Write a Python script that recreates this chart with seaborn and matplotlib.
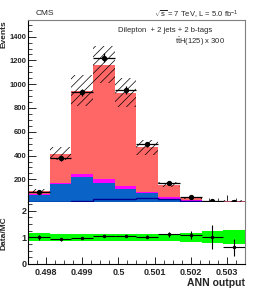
import numpy as np
import pandas as pd
import matplotlib
matplotlib.use("Agg")
import matplotlib.pyplot as plt
import seaborn as sns
from matplotlib.ticker import MultipleLocator

# binning of the ANN output
edges = [0.4975, 0.4981, 0.4987, 0.4993, 0.4999, 0.5005, 0.5011, 0.5017, 0.5023, 0.5029, 0.5035]

# stacked MC, bottom to top
mc_bb = [72, 158, 222, 172, 116, 82, 37, 20, 10, 7]
mc_cc = [8, 14, 23, 28, 24, 14, 12, 6, 2, 3]
mc_lf = [20, 243, 701, 965, 790, 374, 106, 20, 5, 8]
mc_unc = [15, 55, 130, 155, 120, 62, 22, 8, 3.8, 4.5]
signal = [10, 12, 20, 37, 38, 40, 32, 14, 10, 8]

data = [96, 377, 932, 1224, 952, 495, 170, 50, 18, 12]

ratio = [1.0, 0.92, 0.98, 1.04, 1.05, 1.02, 1.11, 1.09, 1.0, 0.62]
ratio_err = [0.10, 0.05, 0.035, 0.03, 0.035, 0.05, 0.08, 0.15, 0.45, 0.33]
band_err = [0.15, 0.13, 0.13, 0.13, 0.13, 0.13, 0.14, 0.17, 0.22, 0.27]

sns.set_style("ticks")
plt.rcParams["font.family"] = ["Liberation Sans", "DejaVu Sans"]
plt.rcParams["mathtext.fontset"] = "custom"
plt.rcParams["mathtext.rm"] = "Liberation Sans"
plt.rcParams["mathtext.it"] = "Liberation Sans:italic"
plt.rcParams["hatch.linewidth"] = 0.5

edges_a = np.array(edges)
centers = 0.5 * (edges_a[:-1] + edges_a[1:])
width = edges_a[1] - edges_a[0]
bb = np.array(mc_bb)
cc = bb + np.array(mc_cc)
tot = cc + np.array(mc_lf)
unc = np.array(mc_unc)

fig = plt.figure(figsize=(2.58, 2.90), dpi=100)
ax = fig.add_axes([0.1085, 0.3045, 0.841, 0.6265])
rx = fig.add_axes([0.1085, 0.09, 0.841, 0.2145])

# stack drawn back to front as cumulative layers
for vals, col in [(tot, "#ff6666"), (cc, "#ff00ff"), (bb, "#0a64c8")]:
    df = pd.DataFrame({"ann": centers, "w": vals})
    sns.histplot(data=df, x="ann", weights="w", bins=edges, element="bars", fill=True,
                 color=col, alpha=1, linewidth=0, ax=ax)
ax.stairs(signal, edges_a, color="#000090", linewidth=1.0)

ax.bar(centers, 2 * unc, bottom=tot - unc, width=width, fill=False,
       hatch="////", edgecolor="black", linewidth=0)

ax.errorbar(centers, data, yerr=np.sqrt(data), xerr=width / 2, fmt="o",
            color="black", markersize=2.8, elinewidth=0.9, capsize=0)

ax.set_xlim(0.4975, 0.5035)
ax.set_ylim(12, 1540)
ax.xaxis.set_major_locator(MultipleLocator(0.001))
ax.xaxis.set_minor_locator(MultipleLocator(0.00025))
ax.set_xticklabels([])
ax.yaxis.set_major_locator(MultipleLocator(200))
ax.yaxis.set_minor_locator(MultipleLocator(50))
ax.set_xlabel("")
ax.set_ylabel("Events", loc="top", fontsize=6, fontweight="bold", labelpad=1)
ax.tick_params(axis="both", which="both", direction="in")
ax.tick_params(axis="y", which="major", length=6, width=0.7, labelsize=5.5, pad=1)
ax.tick_params(axis="y", which="minor", length=3, width=0.6)
ax.tick_params(axis="x", which="major", length=5, width=0.7)
ax.tick_params(axis="x", which="minor", length=3, width=0.6)
for lab in ax.get_yticklabels():
    lab.set_fontweight("bold")

ax.text(0.037, 1.025, "CMS", transform=ax.transAxes, fontsize=6, va="baseline")
ax.text(0.968, 1.015, r"$\sqrt{\mathrm{s}}$ = 7 TeV, L = 5.0 fb$^{-1}$", transform=ax.transAxes,
        fontsize=5.5, ha="right", va="baseline")
ax.text(0.415, 0.936, "Dilepton  + 2 jets + 2 b-tags", transform=ax.transAxes,
        fontsize=5.5, va="baseline")
ax.text(0.677, 0.866, r"$\mathrm{t\bar{t}H}$(125) x 300", transform=ax.transAxes,
        fontsize=5.5, va="baseline")

# ratio panel
band = np.array(band_err)
rx.bar(centers, 2 * band, bottom=1 - band, width=width, color="#00ff00", linewidth=0)
rx.errorbar(centers, ratio, yerr=ratio_err, xerr=width / 2, fmt="o", color="black",
            markersize=1.5, elinewidth=0.8, capsize=0)
rx.set_xlim(0.4975, 0.5035)
rx.set_ylim(0, 2.34)
rx.xaxis.set_minor_locator(MultipleLocator(0.00025))
rx.yaxis.set_minor_locator(MultipleLocator(0.25))
rx.set_xticks([0.498, 0.499, 0.5, 0.501, 0.502, 0.503])
rx.set_xticklabels(["0.498", "0.499", "0.5", "0.501", "0.502", "0.503"])
rx.set_yticks([0, 1, 2])
rx.tick_params(axis="both", which="both", direction="in")
rx.tick_params(axis="x", which="major", length=5, width=0.7, labelsize=6.5, pad=3)
rx.tick_params(axis="x", which="minor", length=3, width=0.6)
rx.tick_params(axis="y", which="major", length=6, width=0.7, labelsize=6.5, pad=1)
rx.tick_params(axis="y", which="minor", length=3, width=0.6)
for lab in rx.get_xticklabels() + rx.get_yticklabels():
    lab.set_fontweight("bold")
rx.set_xlabel("ANN output", loc="right", fontsize=7.5, fontweight="bold", labelpad=1)
rx.set_ylabel("Data/MC", fontsize=6, fontweight="bold", labelpad=2)

for a in (ax, rx):
    for s in ("left", "bottom"):
        a.spines[s].set_linewidth(0.8)
        a.spines[s].set_color("black")
    for s in ("top", "right"):
        a.spines[s].set_linewidth(0.8)
        a.spines[s].set_color("#808080")
rx.spines["top"].set_visible(False)
ax.yaxis.set_label_coords(-0.095, 1.0)
rx.yaxis.set_label_coords(-0.095, 0.5)

fig.savefig("out.png", dpi=100)
